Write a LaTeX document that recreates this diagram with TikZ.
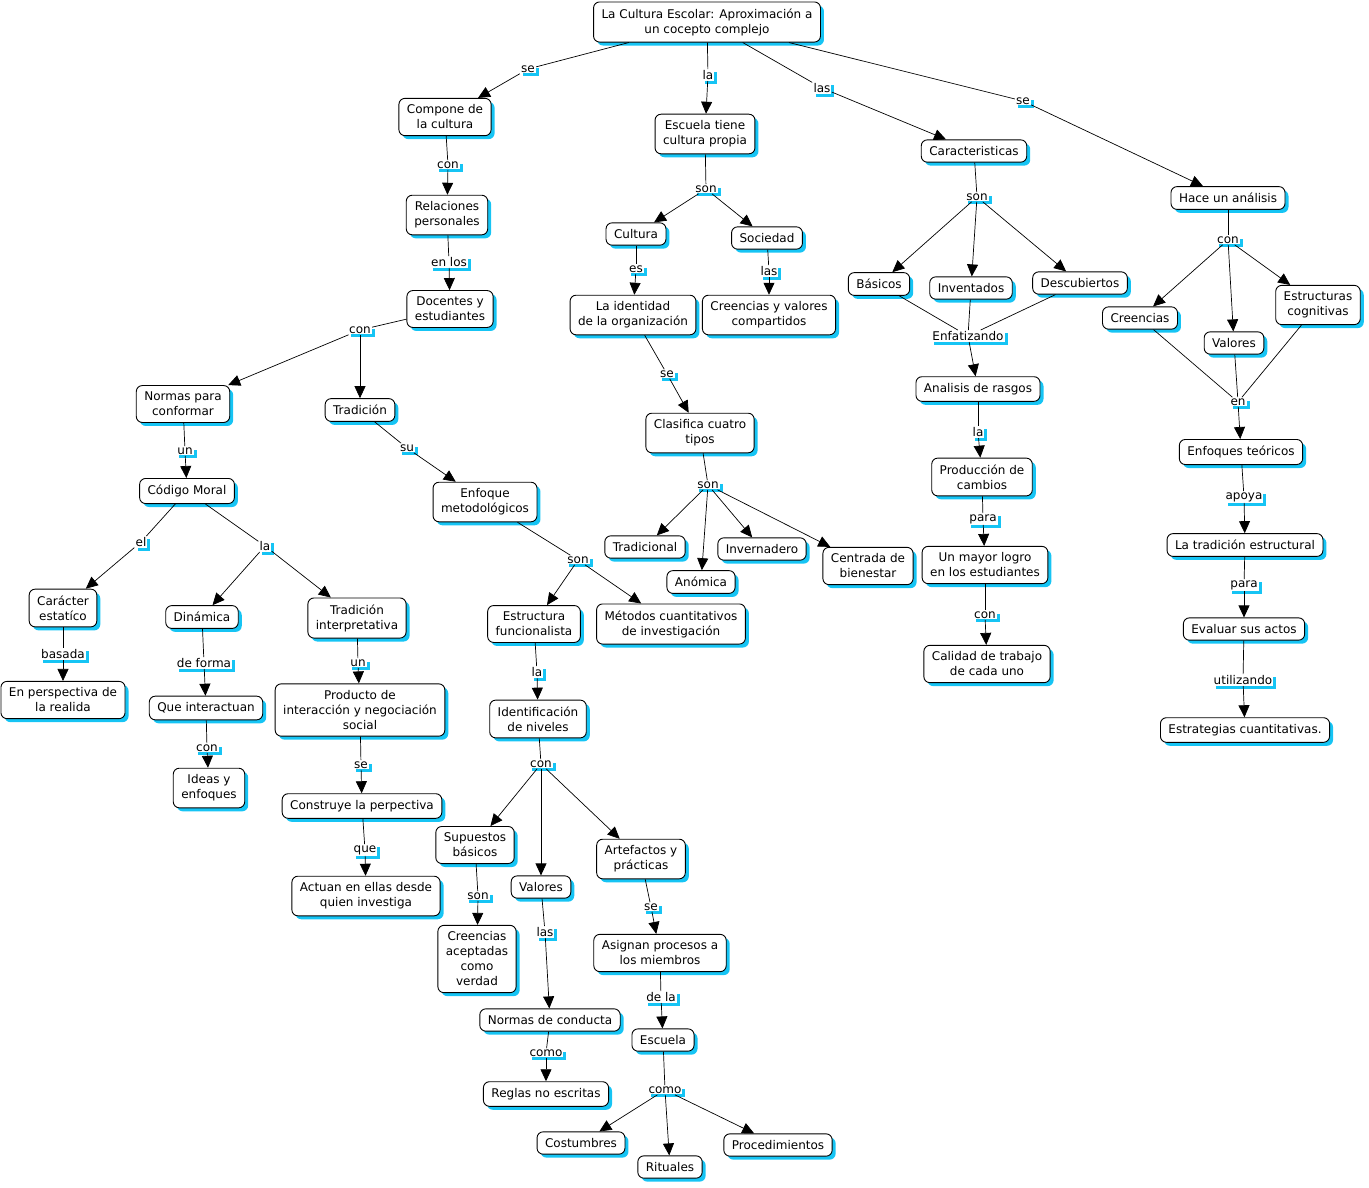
\documentclass[tikz,border=0pt]{standalone}
\usepackage{fontspec}
\setmainfont{DejaVu Sans}
\usetikzlibrary{arrows.meta,shadows}
\definecolor{cmapcyan}{RGB}{22,196,244}
\begin{document}
\begin{tikzpicture}[x=1pt, y=-1pt,
    concept/.style={draw, fill=white, rounded corners=6pt, line width=0.9pt,
        align=center, inner xsep=8pt, inner ysep=6.5pt,
        font=\fontsize{12}{15}\selectfont,
        general shadow={fill=cmapcyan, shadow xshift=3.5pt, shadow yshift=-3.5pt}},
    linkwd/.style={fill=white, inner sep=1pt, font=\fontsize{12}{14}\selectfont,
        general shadow={fill=cmapcyan, shadow xshift=3pt, shadow yshift=-3pt}},
    >={Triangle[length=12pt,width=11pt]}, line width=0.7pt
]
\useasboundingbox (0,0) rectangle (1369,1187);
% concepts
\node[concept] (root) at (707,22) {La Cultura Escolar: Aproximación a\\un cocepto complejo};
\node[concept] (compone) at (445,117) {Compone de\\la cultura};
\node[concept] (escuela) at (705,134) {Escuela tiene\\cultura propia};
\node[concept] (caract) at (974,151) {Caracteristicas};
\node[concept] (hace) at (1228,198) {Hace un análisis};
\node[concept] (relac) at (447,215) {Relaciones\\personales};
\node[concept] (docentes) at (450,309) {Docentes y\\estudiantes};
\node[concept] (normas) at (183,404) {Normas para\\conformar};
\node[concept] (tradicion) at (360,410) {Tradición};
\node[concept] (codigo) at (187,491) {Código Moral};
\node[concept] (enfoque) at (485,502) {Enfoque\\metodológicos};
\node[concept] (caracter) at (63,608) {Carácter\\estatíco};
\node[concept] (dinamica) at (202,617) {Dinámica};
\node[concept] (tradint) at (357,618) {Tradición\\interpretativa};
\node[concept] (enpersp) at (63,700) {En perspectiva de\\la realida};
\node[concept] (queint) at (206,708) {Que interactuan};
\node[concept] (producto) at (360,710) {Producto de\\interacción y negociación\\social};
\node[concept] (ideas) at (209,788) {Ideas y\\enfoques};
\node[concept] (construye) at (362,806) {Construye la perpectiva};
\node[concept] (actuan) at (366,896) {Actuan en ellas desde\\quien investiga};
\node[concept] (estfun) at (534,624) {Estructura\\funcionalista};
\node[concept] (metodos) at (671,624) {Métodos cuantitativos\\de investigación};
\node[concept] (identif) at (538,719) {Identificación\\de niveles};
\node[concept] (supuestos) at (475,845) {Supuestos\\básicos};
\node[concept] (valoresb) at (541,887) {Valores};
\node[concept] (artef) at (641,859) {Artefactos y\\prácticas};
\node[concept] (creenac) at (477,959) {Creencias\\aceptadas\\como\\verdad};
\node[concept] (normcond) at (550,1020) {Normas de conducta};
\node[concept] (asignan) at (660,953) {Asignan procesos a\\los miembros};
\node[concept] (reglas) at (546,1094) {Reglas no escritas};
\node[concept] (escuelab) at (663,1040) {Escuela};
\node[concept] (costum) at (581,1143) {Costumbres};
\node[concept] (rituales) at (670,1167) {Rituales};
\node[concept] (proced) at (778,1145) {Procedimientos};
\node[concept] (cultura) at (636,234) {Cultura};
\node[concept] (sociedad) at (767,238) {Sociedad};
\node[concept] (identidad) at (633,315) {La identidad\\de la organización};
\node[concept] (creenval) at (769,315) {Creencias y valores\\compartidos};
\node[concept] (clasif) at (700,433) {Clasifica cuatro\\tipos};
\node[concept] (tradic) at (645,547) {Tradicional};
\node[concept] (anomica) at (701,582) {Anómica};
\node[concept] (invern) at (762,549) {Invernadero};
\node[concept] (centrada) at (868,566) {Centrada de\\bienestar};
\node[concept] (basicos) at (879,284) {Básicos};
\node[concept] (invent) at (971,288) {Inventados};
\node[concept] (descub) at (1080,283) {Descubiertos};
\node[concept] (analisis) at (978,389) {Analisis de rasgos};
\node[concept] (produc) at (982,477) {Producción de\\cambios};
\node[concept] (mayor) at (985,565) {Un mayor logro\\en los estudiantes};
\node[concept] (calidad) at (987,664) {Calidad de trabajo\\de cada uno};
\node[concept] (creenc) at (1140,318) {Creencias};
\node[concept] (valoresc) at (1234,343) {Valores};
\node[concept] (estcog) at (1318,305) {Estructuras\\cognitivas};
\node[concept] (enfteo) at (1241,452) {Enfoques teóricos};
\node[concept] (tradest) at (1245,545) {La tradición estructural};
\node[concept] (evaluar) at (1244,629) {Evaluar sus actos};
\node[concept] (estrat) at (1245,730) {Estrategias cuantitativas.};
% linking words
\node[linkwd] (l1) at (528,69) {se};
\node[linkwd] (l2) at (708,75) {la};
\node[linkwd] (l3) at (822,88) {las};
\node[linkwd] (l4) at (1023,101) {se};
\node[linkwd] (l5) at (448,165) {con};
\node[linkwd] (l6) at (449,262) {en los};
\node[linkwd] (l7) at (360,330) {con};
\node[linkwd] (l8) at (185,451) {un};
\node[linkwd] (l9) at (407,448) {su};
\node[linkwd] (l10) at (141,542) {el};
\node[linkwd] (l11) at (265,546) {la};
\node[linkwd] (l12) at (63,654) {basada};
\node[linkwd] (l13) at (204,663) {de forma};
\node[linkwd] (l14) at (358,663) {un};
\node[linkwd] (l15) at (207,748) {con};
\node[linkwd] (l16) at (361,765) {se};
\node[linkwd] (l17) at (365,850) {que};
\node[linkwd] (l18) at (578,560) {son};
\node[linkwd] (l19) at (537,672) {la};
\node[linkwd] (l20) at (541,764) {con};
\node[linkwd] (l21) at (478,896) {son};
\node[linkwd] (l22) at (545,932) {las};
\node[linkwd] (l23) at (651,907) {se};
\node[linkwd] (l24) at (546,1053) {como};
\node[linkwd] (l25) at (661,997) {de la};
\node[linkwd] (l26) at (665,1090) {como};
\node[linkwd] (l27) at (706,189) {son};
\node[linkwd] (l28) at (636,269) {es};
\node[linkwd] (l29) at (769,271) {las};
\node[linkwd] (l30) at (667,374) {se};
\node[linkwd] (l31) at (708,485) {son};
\node[linkwd] (l32) at (977,197) {son};
\node[linkwd] (l33) at (968,336) {Enfatizando};
\node[linkwd] (l34) at (978,432) {la};
\node[linkwd] (l35) at (983,519) {para};
\node[linkwd] (l36) at (985,615) {con};
\node[linkwd] (l37) at (1228,240) {con};
\node[linkwd] (l38) at (1238,402) {en};
\node[linkwd] (l39) at (1244,497) {apoya};
\node[linkwd] (l40) at (1244,585) {para};
\node[linkwd] (l41) at (1243,680) {utilizando};
% connectors
\draw (root) -- (l1); \draw[->] (l1) -- (compone);
\draw (root) -- (l2); \draw[->] (l2) -- (escuela);
\draw (root) -- (l3); \draw[->] (l3) -- (caract);
\draw (root) -- (l4); \draw[->] (l4) -- (hace);
\draw (compone) -- (l5); \draw[->] (l5) -- (relac);
\draw (relac) -- (l6); \draw[->] (l6) -- (docentes);
\draw (docentes) -- (l7); \draw[->] (l7) -- (normas); \draw[->] (l7) -- (tradicion);
\draw (normas) -- (l8); \draw[->] (l8) -- (codigo);
\draw (tradicion) -- (l9); \draw[->] (l9) -- (enfoque);
\draw (codigo) -- (l10); \draw[->] (l10) -- (caracter);
\draw (codigo) -- (l11); \draw[->] (l11) -- (dinamica); \draw[->] (l11) -- (tradint);
\draw (caracter) -- (l12); \draw[->] (l12) -- (enpersp);
\draw (dinamica) -- (l13); \draw[->] (l13) -- (queint);
\draw (tradint) -- (l14); \draw[->] (l14) -- (producto);
\draw (queint) -- (l15); \draw[->] (l15) -- (ideas);
\draw (producto) -- (l16); \draw[->] (l16) -- (construye);
\draw (construye) -- (l17); \draw[->] (l17) -- (actuan);
\draw (enfoque) -- (l18); \draw[->] (l18) -- (estfun); \draw[->] (l18) -- (metodos);
\draw (estfun) -- (l19); \draw[->] (l19) -- (identif);
\draw (identif) -- (l20); \draw[->] (l20) -- (supuestos); \draw[->] (l20) -- (valoresb); \draw[->] (l20) -- (artef);
\draw (supuestos) -- (l21); \draw[->] (l21) -- (creenac);
\draw (valoresb) -- (l22); \draw[->] (l22) -- (normcond);
\draw (artef) -- (l23); \draw[->] (l23) -- (asignan);
\draw (normcond) -- (l24); \draw[->] (l24) -- (reglas);
\draw (asignan) -- (l25); \draw[->] (l25) -- (escuelab);
\draw (escuelab) -- (l26); \draw[->] (l26) -- (costum); \draw[->] (l26) -- (rituales); \draw[->] (l26) -- (proced);
\draw (escuela) -- (l27); \draw[->] (l27) -- (cultura); \draw[->] (l27) -- (sociedad);
\draw (cultura) -- (l28); \draw[->] (l28) -- (identidad);
\draw (sociedad) -- (l29); \draw[->] (l29) -- (creenval);
\draw (identidad) -- (l30); \draw[->] (l30) -- (clasif);
\draw (clasif) -- (l31); \draw[->] (l31) -- (tradic); \draw[->] (l31) -- (anomica);
\draw[->] (l31) -- (invern); \draw[->] (l31) -- (centrada);
\draw (caract) -- (l32); \draw[->] (l32) -- (basicos); \draw[->] (l32) -- (invent); \draw[->] (l32) -- (descub);
\draw (basicos) -- (l33); \draw (invent) -- (l33); \draw (descub) -- (l33); \draw[->] (l33) -- (analisis);
\draw (analisis) -- (l34); \draw[->] (l34) -- (produc);
\draw (produc) -- (l35); \draw[->] (l35) -- (mayor);
\draw (mayor) -- (l36); \draw[->] (l36) -- (calidad);
\draw (hace) -- (l37); \draw[->] (l37) -- (creenc); \draw[->] (l37) -- (valoresc); \draw[->] (l37) -- (estcog);
\draw (creenc) -- (l38); \draw (valoresc) -- (l38); \draw (estcog) -- (l38); \draw[->] (l38) -- (enfteo);
\draw (enfteo) -- (l39); \draw[->] (l39) -- (tradest);
\draw (tradest) -- (l40); \draw[->] (l40) -- (evaluar);
\draw (evaluar) -- (l41); \draw[->] (l41) -- (estrat);
\end{tikzpicture}
\end{document}
